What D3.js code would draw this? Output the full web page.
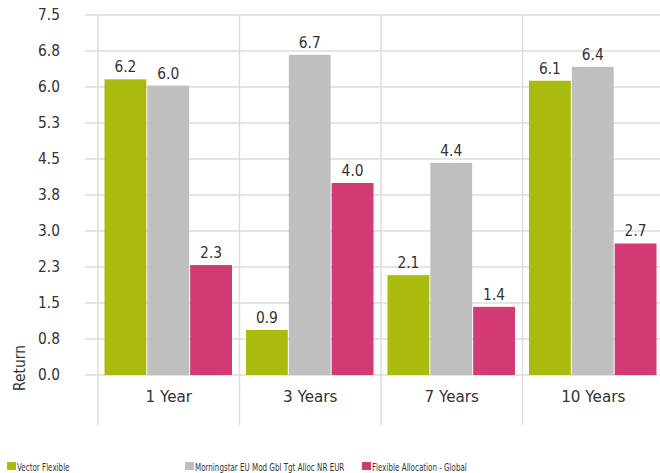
<!DOCTYPE html>
<html>
<head>
<meta charset="utf-8">
<script src="https://cdn.jsdelivr.net/npm/d3@7"></script>
<style>
  body { margin: 0; background: #fff; }
  text { font-family: "DejaVu Sans", sans-serif; fill: #333; }
</style>
</head>
<body>
<div id="chart"></div>
<script>
// chart data
var categories = ["1 Year", "3 Years", "7 Years", "10 Years"];
var seriesNames = ["Vector Flexible", "Morningstar EU Mod Gbl Tgt Alloc NR EUR", "Flexible Allocation - Global"];
var vectorFlexible = [6.16, 0.94, 2.08, 6.13];
var morningstarIndex = [6.03, 6.67, 4.42, 6.42];
var flexibleAllocation = [2.29, 4.00, 1.42, 2.74];
var yTicks = [0, 0.75, 1.5, 2.25, 3, 3.75, 4.5, 5.25, 6, 6.75, 7.5];
var colors = ["#a9bb0c", "#bfbfbf", "#d13a72"];

var width = 660, height = 473;
var margin = {top: 15, left: 98, right: -4, bottom: 98};

var svg = d3.select("#chart").append("svg")
    .attr("width", width)
    .attr("height", height);

var y = d3.scaleLinear().domain([0, 7.5]).range([height - margin.bottom, margin.top]);
var x = d3.scaleBand().domain(categories).range([margin.left, width - margin.right]);
var inner = d3.scaleBand().domain(seriesNames).range([6.5, x.bandwidth() - 6.5]);

var data = [];
categories.forEach(function(c, i){
    data.push({cat: c, s: seriesNames[0], v: vectorFlexible[i], col: colors[0]});
    data.push({cat: c, s: seriesNames[1], v: morningstarIndex[i], col: colors[1]});
    data.push({cat: c, s: seriesNames[2], v: flexibleAllocation[i], col: colors[2]});
});

// horizontal grid
svg.append("g").selectAll("line").data(yTicks).enter().append("line")
    .attr("x1", 85).attr("x2", width)
    .attr("y1", function(d){ return y(d); })
    .attr("y2", function(d){ return y(d); })
    .style("stroke", "#dddddd").style("stroke-width", 1.5);

// vertical separators
svg.append("g").selectAll("line").data(categories).enter().append("line")
    .attr("x1", function(d){ return x(d); })
    .attr("x2", function(d){ return x(d); })
    .attr("y1", margin.top).attr("y2", 425)
    .style("stroke", "#dddddd").style("stroke-width", 1.5);

// y tick labels (narrow font look via horizontal squeeze)
svg.append("g").selectAll("text").data(yTicks).enter().append("text")
    .attr("transform", function(d){ return "translate(60," + (y(d) + 5) + ") scale(0.92,1)"; })
    .style("text-anchor", "end")
    .style("font-size", "15px")
    .text(function(d){ return d.toFixed(1); });

svg.append("text")
    .attr("transform", "translate(25,368) rotate(-90) scale(0.92,1)")
    .style("text-anchor", "middle")
    .style("font-size", "15px")
    .text("Return");

// bars
svg.append("g").selectAll("rect").data(data).enter().append("rect")
    .attr("x", function(d){ return x(d.cat) + inner(d.s); })
    .attr("width", inner.bandwidth() - 1)
    .attr("y", function(d){ return y(d.v); })
    .attr("height", function(d){ return y(0) - y(d.v); })
    .style("fill", function(d){ return d.col; });

// value labels
svg.append("g").selectAll("text").data(data).enter().append("text")
    .attr("transform", function(d){
        var cx = x(d.cat) + inner(d.s) + (inner.bandwidth() - 1) / 2;
        return "translate(" + cx + "," + (y(d.v) - 7) + ") scale(0.92,1)";
    })
    .style("text-anchor", "middle")
    .style("font-size", "15px")
    .text(function(d){ return d.v.toFixed(1); });

// category labels
svg.append("g").selectAll("text").data(categories).enter().append("text")
    .attr("transform", function(d){ return "translate(" + (x(d) + x.bandwidth() / 2) + ",402) scale(0.95,1)"; })
    .style("text-anchor", "middle")
    .style("font-size", "16px")
    .text(function(d){ return d; });

// legend
var legendX = [7, 185, 362];
var lg = svg.append("g").selectAll("g").data(seriesNames).enter().append("g")
    .attr("transform", function(d, i){ return "translate(" + legendX[i] + ",462)"; });
lg.append("rect").attr("width", 9).attr("height", 8)
    .style("fill", function(d, i){ return colors[i]; });
lg.append("text").attr("transform", "translate(10,8.5) scale(0.65,1)")
    .style("font-size", "11px")
    .text(function(d){ return d; });
</script>
</body>
</html>
